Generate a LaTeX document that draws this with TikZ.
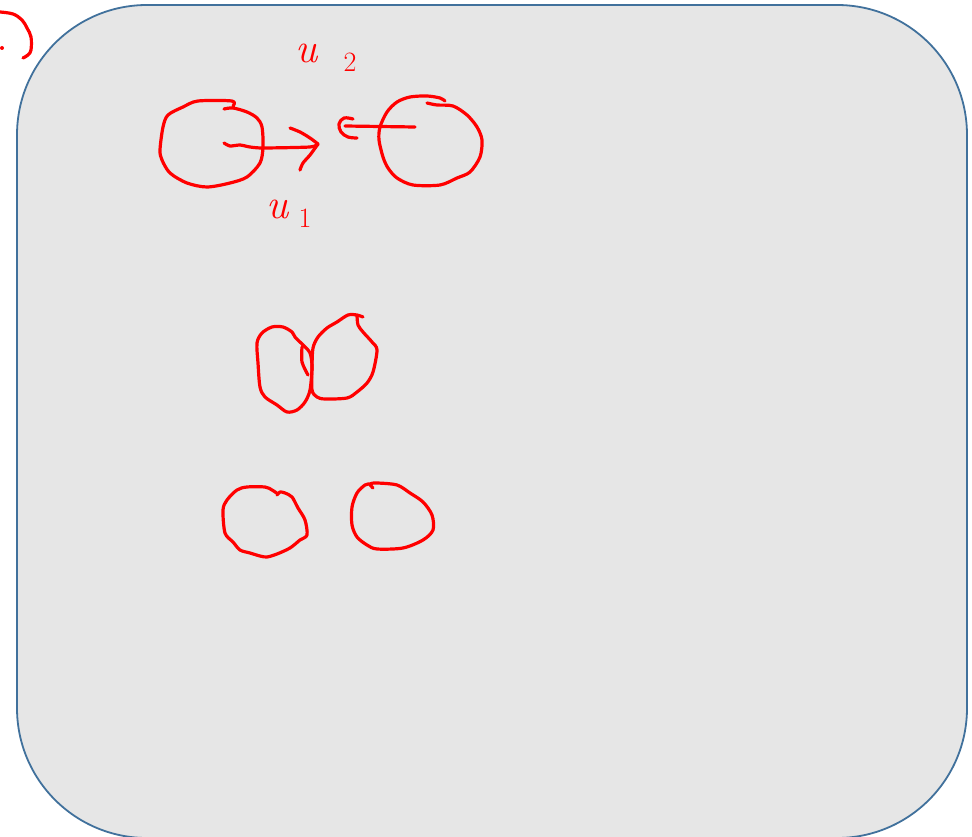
\documentclass[tikz,border=0pt]{standalone}
\usepackage{amsmath}
\usepackage{xcolor}
\usetikzlibrary{calc}
\definecolor{panelgray}{HTML}{E6E6E6}
\definecolor{panelblue}{HTML}{41719C}
\tikzset{>=stealth,
  ink/.style={draw=red, line width=3.2pt, line cap=round, line join=round},
  panel/.style={fill=panelgray, draw=panelblue, line width=1.8pt, rounded corners=130pt},
  inklabel/.style={text=red, font=\fontsize{42}{46}\selectfont\itshape, inner sep=0pt}}
\newcommand{\inksub}[2]{\hspace{#1}\raisebox{-0.5ex}{\fontsize{28}{30}\selectfont\upshape #2}}

\begin{document}
\begin{tikzpicture}[x=1pt, y=-1pt]
			\useasboundingbox (0,0) rectangle (972,837);
			% background panel
			\draw[panel] (17,5) rectangle (967,838);
			
			% stray mark at the top left corner
			\draw[ink] plot[smooth, tension=0.6] coordinates {(0,12) (13,14) (22,20) (27,28) (31,37) (31,50) (28,55) (23,58)};
			\fill[red] (2,48) circle (2pt);
			
			% first pair: two balls moving towards each other
			\draw[ink] plot[smooth, tension=0.5] coordinates {(224,109) (233,108) (247,112) (257,118) (262,127) (263,147) (260,163) (247,177) (230,183) (207,187) (187,183) (170,173) (162,160) (160,150) (163,127) (168,115) (183,107) (198,101) (232,101) (233,106)};
			\draw[ink] plot[smooth, tension=0.5] coordinates {(427,103) (437,105) (453,106) (467,115) (477,127) (482,140) (480,157) (470,172) (457,178) (440,185) (413,185) (397,178) (388,168) (383,157) (379,140) (380,127) (387,112) (397,102) (410,97) (427,96) (440,98) (445,101)};
			
			% arrow u1 to the right
			\draw[ink] plot[smooth, tension=0.4] coordinates {(224,143) (230,146) (240,145) (250,147) (263,148) (310,147) (318,144)};
			\draw[ink] plot[smooth, tension=0.5] coordinates {(290,128) (300,132) (310,138) (318,144)};
			\draw[ink] plot[smooth, tension=0.5] coordinates {(318,144) (310,155) (303,163) (300,170)};
			
			% arrow u2 to the left
			\draw[ink] (415,127) -- (345,126);
			\draw[ink] plot[smooth, tension=0.6] coordinates {(353,119) (344,118) (339,124) (341,132) (348,137) (357,138)};
			
			% velocity labels
			\node[inklabel] (u2) at (326,58) {u\inksub{26pt}{2}};
			\node[inklabel] (u1) at (289,214) {u\inksub{10pt}{1}};
			
			% second stage: balls in contact
			\draw[ink] plot[smooth cycle, tension=0.5] coordinates {(272,327) (283,327) (292,332) (295,337) (303,345) (310,353) (312,367) (310,390) (305,402) (297,410) (287,412) (277,405) (265,397) (260,387) (258,363) (257,343) (262,333)};
			\draw[ink] plot[smooth, tension=0.5] coordinates {(302,347) (302,362) (308,375)};
			\draw[ink] plot[smooth, tension=0.5] coordinates {(363,317) (357,315) (348,315) (337,322) (327,328) (318,337) (313,348) (312,367) (312,390) (317,397) (325,399) (347,398) (357,392) (367,383) (373,372) (377,350) (372,342) (363,332) (358,325) (357,315)};
			
			% third stage: balls moving apart
			\draw[ink] plot[smooth, tension=0.5] coordinates {(277,495) (280,492) (285,493) (292,497) (298,508) (305,520) (307,535) (300,540) (290,548) (277,554) (267,557) (260,556) (250,553) (240,550) (233,542) (225,533) (223,510) (227,500) (237,490) (247,487) (265,487) (272,490) (278,494)};
			\draw[ink] plot[smooth, tension=0.5] coordinates {(373,488) (370,484) (377,483) (397,485) (410,493) (423,502) (432,515) (433,530) (423,540) (403,548) (377,549) (367,545) (357,537) (352,525) (352,507) (357,493) (365,485) (370,484)};
		\end{tikzpicture}
\end{document}
